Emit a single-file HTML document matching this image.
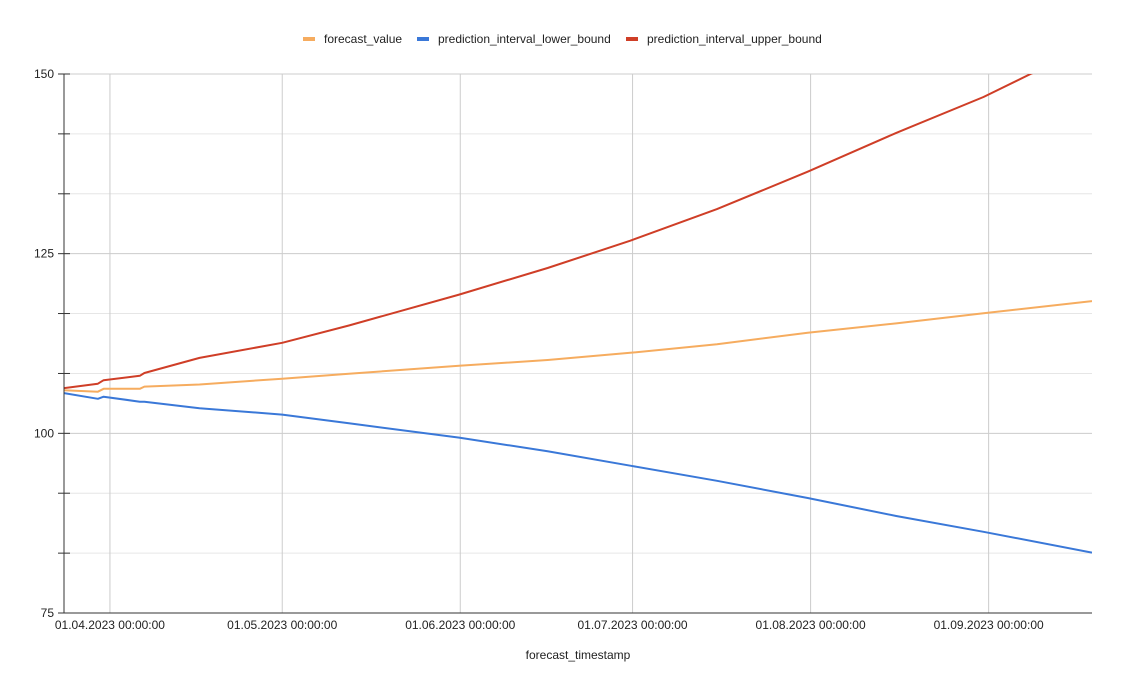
<!DOCTYPE html>
<html><head><meta charset="utf-8"><style>
body{margin:0;background:#fff;font-family:"Liberation Sans",Arial,sans-serif}
svg{display:block}
text{font-family:"Liberation Sans",Arial,sans-serif;fill:#222}
</style></head><body>
<svg id="chart" width="1124" height="688">
<defs><clipPath id="clip"><rect x="64" y="74" width="1028" height="539"/></clipPath></defs>
<g id="grid"></g>
<g id="series" clip-path="url(#clip)"></g>
<g id="axes"></g>
<g id="legend">
 <rect x="303" y="37" width="12" height="4" fill="#f6ac5f"/>
 <text x="324" y="43" font-size="12">forecast_value</text>
 <rect x="417" y="37" width="12" height="4" fill="#3a78d8"/>
 <text x="438" y="43" font-size="12">prediction_interval_lower_bound</text>
 <rect x="626" y="37" width="12" height="4" fill="#cf3e27"/>
 <text x="647" y="43" font-size="12">prediction_interval_upper_bound</text>
</g>
<text x="578" y="659" font-size="12" text-anchor="middle">forecast_timestamp</text>
</svg>
<script>
// days since 24.03.2023
const forecastDays=[0,5.9,6.9,13.2,14,23.6,38,49.6,68.8,84.2,98.6,113.7,129.5,144.9,160.1,179];
const forecastVals=[106.0,105.8,106.2,106.2,106.5,106.8,107.6,108.3,109.4,110.2,111.2,112.4,114.0,115.3,116.7,118.4];
const upperDays=[0,5.9,6.9,13.2,14,23.6,38,49.6,68.8,84.2,98.6,113.7,129.5,144.9,160.1,168.3,179];
const upperVals=[106.3,106.9,107.4,108.0,108.4,110.5,112.6,115.0,119.3,123.0,126.8,131.2,136.4,141.8,146.8,150.0,153.6];
const lowerDays=[0,5.9,6.9,13.2,14,23.6,38,49.6,68.8,84.2,98.6,113.7,129.5,144.9,160.1,179];
const lowerVals=[105.6,104.8,105.1,104.4,104.4,103.5,102.6,101.4,99.4,97.5,95.5,93.4,91.0,88.5,86.3,83.4];
const monthDays=[8,38,69,99,130,161];
const monthLabels=["01.04.2023 00:00:00","01.05.2023 00:00:00","01.06.2023 00:00:00","01.07.2023 00:00:00","01.08.2023 00:00:00","01.09.2023 00:00:00"];
const yTicks=[75,100,125,150];
const yMinor=[83.33,91.67,108.33,116.67,133.33,141.67];

const X0=64,X1=1092,Y0=613,Y1=74,DMAX=179,VMIN=75,VMAX=150;
const sx=d=>X0+(d/DMAX)*(X1-X0);
const sy=v=>Y0-(v-VMIN)/(VMAX-VMIN)*(Y0-Y1);
const NS="http://www.w3.org/2000/svg";
function mk(tag,attrs,parent){const e=document.createElementNS(NS,tag);for(const k in attrs)e.setAttribute(k,attrs[k]);parent.appendChild(e);return e;}
const grid=document.getElementById('grid'),axes=document.getElementById('axes'),ser=document.getElementById('series');
[...yTicks,...yMinor].forEach(v=>{
  const l=mk('line',{x1:X0,x2:X1,y1:sy(v),y2:sy(v),stroke:yTicks.includes(v)?'#cccccc':'#e6e6e6','stroke-width':1},grid);
  
  
  const t=mk('line',{x1:58,x2:70,y1:sy(v),y2:sy(v),stroke:'#333','stroke-width':1},axes);
  
  
});
yTicks.forEach(v=>{
  const t=mk('text',{x:54,y:sy(v)+4,'font-size':12,'text-anchor':'end'},axes);
  t.textContent=v;
  
  
});
monthDays.forEach((d,i)=>{
  const l=mk('line',{x1:sx(d),x2:sx(d),y1:Y1,y2:Y0,stroke:'#cccccc','stroke-width':1},grid);
  
  
  const t=mk('text',{x:sx(d),y:629,'font-size':12,'text-anchor':'middle'},axes);
  t.textContent=monthLabels[i];
  
  
});
const ax=mk('line',{x1:X0,x2:X0,y1:Y1,y2:Y0,stroke:'#333','stroke-width':1},axes);


const bx=mk('line',{x1:X0,x2:X1,y1:Y0,y2:Y0,stroke:'#333','stroke-width':1},axes);


function line(days,vals,color,name){
  const p=mk('path',{d:days.map((d,i)=>(i?'L':'M')+sx(d).toFixed(1)+' '+sy(vals[i]).toFixed(1)).join(''),fill:'none',stroke:color,'stroke-width':2,'stroke-linejoin':'round'},ser);
  
  
}
line(forecastDays,forecastVals,'#f6ac5f','forecast-value-line');
line(lowerDays,lowerVals,'#3a78d8','lower-bound-line');
line(upperDays,upperVals,'#cf3e27','upper-bound-line');
</script>
</body></html>
